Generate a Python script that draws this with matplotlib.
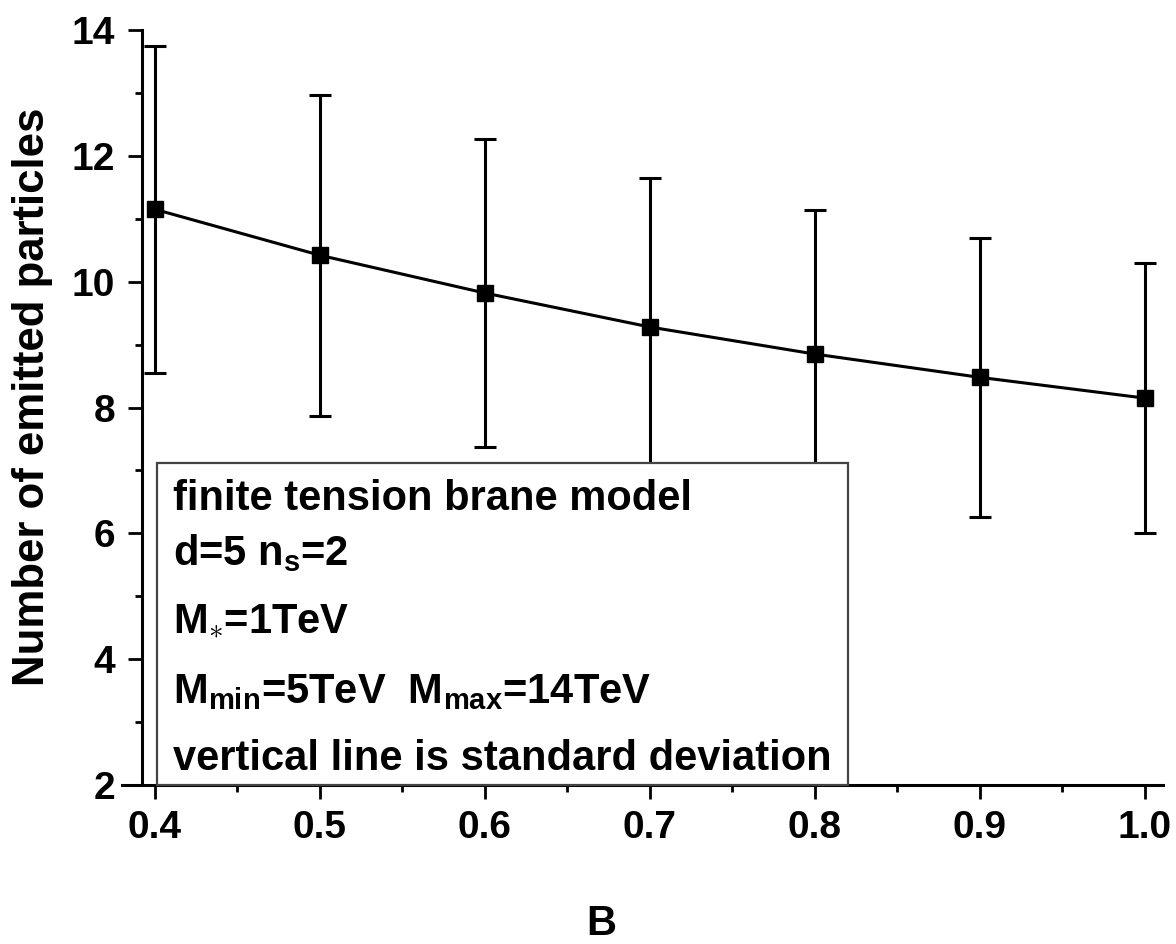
import matplotlib
matplotlib.use('Agg')
import matplotlib.pyplot as plt
from matplotlib.patches import Rectangle
from matplotlib.ticker import MultipleLocator, FormatStrFormatter

plt.rcParams['font.family'] = 'Liberation Sans'
plt.rcParams['font.weight'] = 'bold'
plt.rcParams['mathtext.fontset'] = 'custom'
plt.rcParams['mathtext.rm'] = 'Liberation Sans:bold'
plt.rcParams['mathtext.bf'] = 'Liberation Sans:bold'
plt.rcParams['mathtext.it'] = 'Liberation Sans:bold'
plt.rcParams['mathtext.default'] = 'bf'

# data
B = [0.4, 0.5, 0.6, 0.7, 0.8, 0.9, 1.0]
n_emitted = [11.15, 10.42, 9.82, 9.28, 8.85, 8.48, 8.15]
std_dev = [2.6, 2.55, 2.45, 2.37, 2.29, 2.22, 2.15]

box_lines = [
    'finite tension brane model',
    r'd=5 n$_{s}$=2',
    r'M$_{\ast}$=1TeV',
    r'M$_{min}$=5TeV  M$_{max}$=14TeV',
    'vertical line is standard deviation',
]

fig = plt.figure(figsize=(11.76, 9.44), dpi=100)
ax = fig.add_axes([0.1037, 0.1684, 0.885, 0.7998])

ax.errorbar(B, n_emitted, yerr=std_dev, color='black', lw=2.2,
            elinewidth=2.2, capsize=8, capthick=2.2,
            marker='s', markersize=12, zorder=2)

ax.set_xlim(0.380, 1.011)
ax.set_ylim(2, 14)
ax.xaxis.set_major_locator(MultipleLocator(0.1))
ax.xaxis.set_minor_locator(MultipleLocator(0.05))
ax.yaxis.set_major_locator(MultipleLocator(2))
ax.yaxis.set_minor_locator(MultipleLocator(1))
ax.xaxis.set_major_formatter(FormatStrFormatter('%.1f'))

for s in ['top', 'right']:
    ax.spines[s].set_visible(False)
for s in ['left', 'bottom']:
    ax.spines[s].set_linewidth(2.2)
ax.spines['left'].set_position(('data', 0.392))

ax.tick_params(which='major', direction='out', length=10, width=2,
               labelsize=28, pad=8)
ax.tick_params(axis='y', which='major', pad=9)
ax.tick_params(which='minor', direction='out', length=5, width=2)

ax.set_xlabel('B', fontsize=30, fontweight='bold', va='center')
ax.xaxis.set_label_coords(0.461, -0.184)
ax.set_ylabel('Number of emitted particles', fontsize=31.5,
              fontweight='bold', va='center')
ax.yaxis.set_label_coords(-0.0855, 0.514)

# annotation box covering the lower part of the error bars
ax.add_patch(Rectangle((0.0336, 0.0), 0.6638, 0.4265, transform=ax.transAxes,
                       facecolor='white', edgecolor='#444444', lw=1.6,
                       zorder=5, clip_on=False))
ys = [0.364, 0.291, 0.203, 0.109, 0.020]
for txt, y in zip(box_lines, ys):
    ax.text(0.049, y, txt, transform=ax.transAxes, fontsize=30,
            fontweight='bold', va='baseline', ha='left', zorder=6)

fig.savefig('out.png', dpi=100)
